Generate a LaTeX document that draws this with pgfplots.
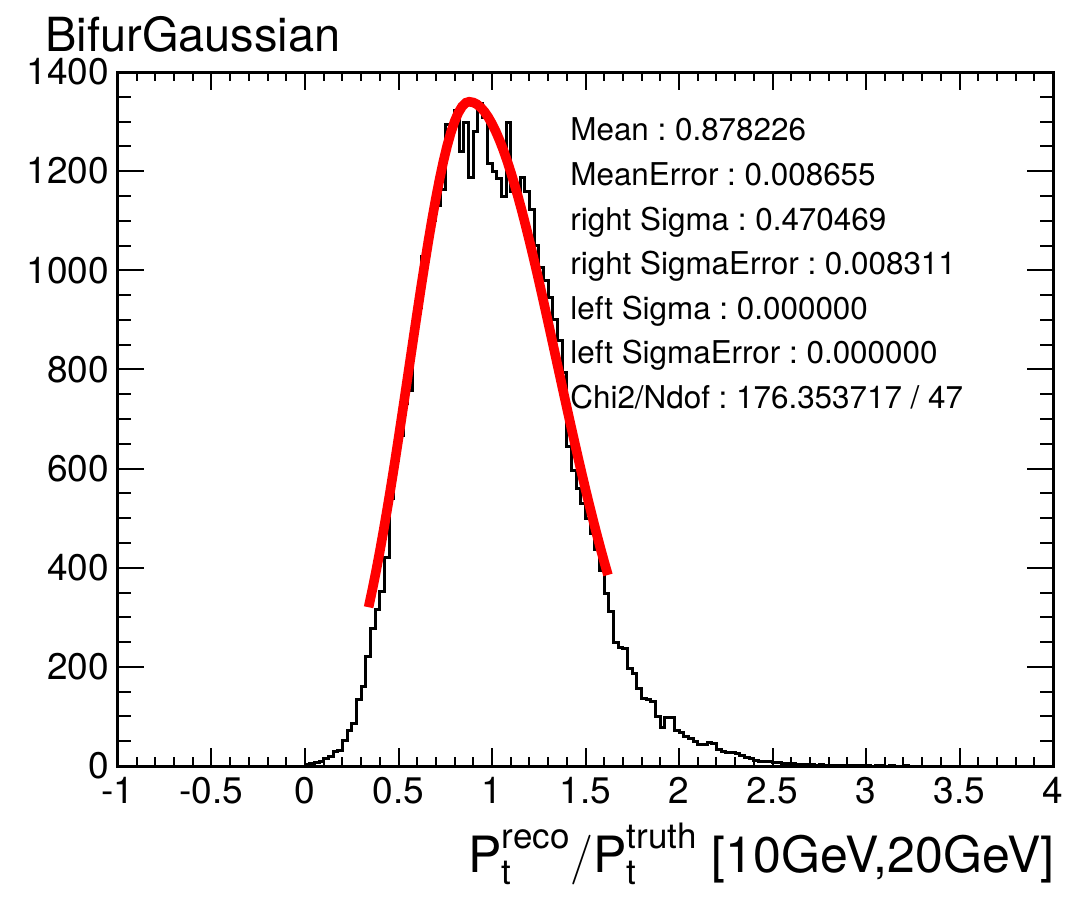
\documentclass[border=0pt]{standalone}
\usepackage{fontspec}
\setmainfont{TeX Gyre Heros}
\usepackage{amsmath}
\usepackage{pgfplots}
\pgfplotsset{compat=1.18}
\begin{document}
\frenchspacing
\begin{tikzpicture}
\useasboundingbox (-59pt,-65pt) rectangle (474pt,383pt);
\begin{axis}[at={(0,0)}, anchor=south west, scale only axis,
  width=467.5pt, height=347pt,
  xmin=-1, xmax=4, ymin=0, ymax=1400,
  xtick={-1,-0.5,0,0.5,1,1.5,2,2.5,3,3.5,4},
  xticklabels={-1,-0.5,0,0.5,1,1.5,2,2.5,3,3.5,4},
  ytick={0,200,400,600,800,1000,1200,1400},
  yticklabels={0,200,400,600,800,1000,1200,1400},
  minor x tick num=4, minor y tick num=3,
  tick align=inside,
  xtick pos=both, ytick pos=both,
  major tick length=9pt, minor tick length=4.5pt,
  every tick/.style={black, line width=1pt},
  ytick style={/pgfplots/major tick length=13pt, /pgfplots/minor tick length=6.5pt},
  axis line style={line width=1.5pt},
  ticklabel style={font=\fontsize{18.5}{20}\selectfont},
  xticklabel style={yshift=-2pt},
  yticklabel style={xshift=-1pt},
  clip=true,
]
\addplot[black, line width=1.5pt, const plot mark left] coordinates {
(-1,0) (0.000,3) (0.025,5) (0.050,8) (0.075,10) (0.100,16) (0.125,20) (0.150,29) (0.175,31)
(0.200,51) (0.225,72) (0.250,86) (0.275,135) (0.300,160) (0.325,220) (0.350,277) (0.375,315)
(0.400,352) (0.425,420) (0.450,540) (0.475,617) (0.500,666) (0.525,732) (0.550,758) (0.575,873)
(0.600,925) (0.625,1027) (0.650,1065) (0.675,1100) (0.700,1130) (0.725,1162) (0.750,1295) (0.775,1295)
(0.800,1323) (0.825,1239) (0.850,1299) (0.875,1188) (0.900,1279) (0.925,1337) (0.950,1309) (0.975,1216)
(1.000,1200) (1.025,1186) (1.050,1148) (1.075,1299) (1.100,1158) (1.125,1158) (1.150,1188) (1.175,1158)
(1.200,1122) (1.225,1051) (1.250,1005) (1.275,980) (1.300,946) (1.325,900) (1.350,859) (1.375,793)
(1.400,644) (1.425,597) (1.450,560) (1.475,530) (1.500,500) (1.525,470) (1.550,436) (1.575,395)
(1.600,349) (1.625,311) (1.650,250) (1.675,240) (1.700,238) (1.725,196) (1.750,186) (1.775,157)
(1.800,137) (1.825,135) (1.850,130) (1.875,99) (1.900,77) (1.925,97) (1.950,97) (1.975,71)
(2.000,67) (2.025,60) (2.050,55) (2.075,49) (2.100,44) (2.125,44) (2.150,47) (2.175,45)
(2.200,34) (2.225,30) (2.250,27) (2.275,27) (2.300,25) (2.325,22) (2.350,17) (2.375,15)
(2.400,11) (2.425,10) (2.450,9) (2.475,9) (2.500,7) (2.525,7) (2.550,5) (2.575,5)
(2.600,5) (2.625,4) (2.650,3) (2.675,3) (2.700,3) (2.725,2) (2.750,3) (2.775,2)
(2.800,2) (2.825,1) (2.850,2) (2.875,1) (2.900,1) (2.925,2) (2.950,1) (2.975,1)
(3.000,1) (3.025,0) (3.050,1) (3.075,1) (3.100,0) (3.125,1) (3.150,0) (3.200,1) (3.225,0) (4,0)
};
\addplot[red, line width=4.8pt] coordinates {
(0.34,320.3) (0.36,355.7) (0.38,393.2) (0.40,433.0) (0.42,475.0) (0.44,519.0) (0.46,564.8)
(0.48,612.2) (0.50,661.2) (0.52,711.0) (0.54,761.8) (0.56,812.7) (0.58,863.8) (0.60,914.4)
(0.62,964.3) (0.64,1012.6) (0.66,1059.4) (0.68,1103.9) (0.70,1145.7) (0.72,1184.4) (0.74,1219.7)
(0.76,1250.9) (0.78,1277.8) (0.80,1300.3) (0.82,1317.9) (0.84,1330.5) (0.86,1337.9) (0.878,1340)
(0.90,1338.5) (0.92,1334.7) (0.94,1328.4) (0.96,1319.8) (0.98,1308.8) (1.00,1295.6) (1.02,1280.2)
(1.04,1262.7) (1.06,1243.3) (1.08,1221.8) (1.10,1198.5) (1.12,1173.6) (1.14,1147.2) (1.16,1119.3)
(1.18,1090.1) (1.20,1059.7) (1.22,1028.3) (1.24,996.2) (1.26,963.1) (1.28,929.4) (1.30,895.5)
(1.32,861.1) (1.34,826.5) (1.36,792.1) (1.38,757.5) (1.40,723.2) (1.42,689.2) (1.44,655.7)
(1.46,622.6) (1.48,590.0) (1.50,558.2) (1.52,527.2) (1.54,497.0) (1.56,467.7) (1.58,439.3)
(1.60,411.8) (1.62,385.4)
};
\end{axis}
\node[anchor=base west, inner sep=0pt, font=\fontsize{23.5}{26}\selectfont] at (-36.5pt,357pt) {BifurGaussian};
\begin{scope}[every node/.style={anchor=base west, inner sep=0pt, font=\fontsize{15.7}{18}\selectfont}]
\node at (226pt,312.5pt) {Mean : 0.878226};
\node at (226pt,290.25pt) {MeanError : 0.008655};
\node at (226pt,268pt) {right Sigma : 0.470469};
\node at (226pt,245.75pt) {right SigmaError : 0.008311};
\node at (226pt,223.5pt) {left Sigma : 0.000000};
\node at (226pt,201.25pt) {left SigmaError : 0.000000};
\node at (226pt,179pt) {Chi2/Ndof : 176.353717 / 47};
\end{scope}
\node[anchor=base east, inner sep=0pt, font=\fontsize{25}{28}\selectfont] at (468.5pt,-53pt)
  {$\text{P}^{\text{reco}}_{\text{t}}/\text{P}^{\text{truth}}_{\text{t}}$ [10GeV,20GeV]};
\end{tikzpicture}
\end{document}
